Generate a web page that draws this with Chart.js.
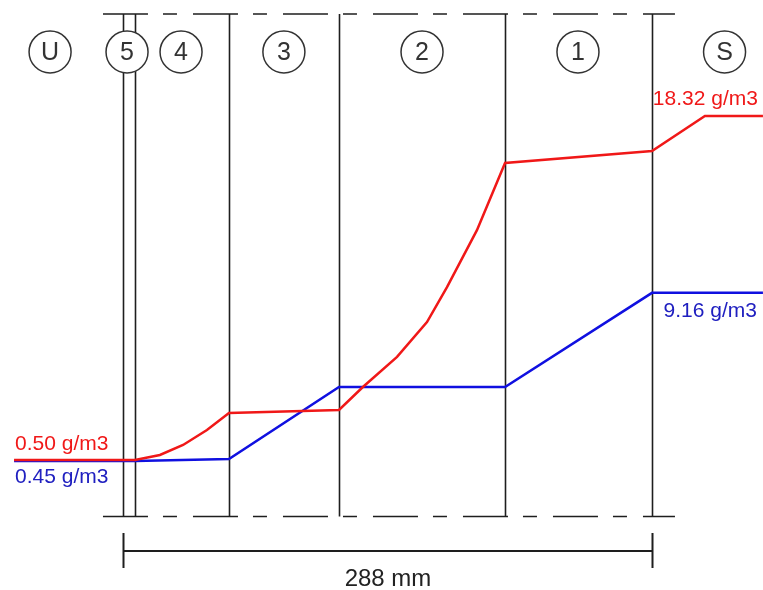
<!DOCTYPE html>
<html>
<head>
<meta charset="utf-8">
<script src="https://cdn.jsdelivr.net/npm/chart.js@4.4.1/dist/chart.umd.min.js"></script>
<style>
  body { margin: 0; background: #fff; }
  #wrap { width: 763px; height: 590px; position: relative; }
</style>
</head>
<body>
<div id="wrap"><canvas id="chart"></canvas></div>
<script>
// positions along the sample in mm, concentrations in g/m3
const boundaries = [0, 6.5, 57.7, 117.6, 208, 288];
const layerNames = ['U', '5', '4', '3', '2', '1', 'S'];
const layerCenters = [-39.7, 2.2, 31.6, 87.6, 162.8, 247.7, 327.5];

const redX = [-59.3, 6.5, 20.1, 32.7, 45.7, 57.7, 117.6, 130.6, 149.2, 165.5, 176.4, 192.7, 208, 288, 316.8, 348.4];
const redY = [0.50, 0.50, 0.76, 1.28, 2.05, 2.93, 3.09, 4.28, 5.84, 7.65, 9.46, 12.41, 15.89, 16.51, 18.32, 18.32];
const blueX = [-59.3, 6.5, 57.7, 117.6, 208, 288, 348.4];
const blueY = [0.45, 0.45, 0.55, 4.28, 4.28, 9.16, 9.16];

const redLabels = ['0.50 g/m3', '18.32 g/m3'];
const blueLabels = ['0.45 g/m3', '9.16 g/m3'];
const totalLabel = '288 mm';

const RED = '#f01818';
const BLUE = '#1010e0';
const INK = '#1e1e1e';

const toPoints = (xs, ys) => xs.map((x, i) => ({ x: x, y: ys[i] }));

// draws the layer frame, circled labels, value labels and dimension line
const layout = {
  id: 'layout',
  beforeDatasetsDraw(chart) {
    const ctx = chart.ctx;
    const xs = chart.scales.x, ys = chart.scales.y;
    const top = ys.getPixelForValue(23.61), bottom = ys.getPixelForValue(-2.43);
    const left = xs.getPixelForValue(-10.9), right = xs.getPixelForValue(300.5);
    ctx.save();
    ctx.strokeStyle = INK;
    ctx.lineWidth = 1.6;
    // dashed top and bottom edges
    ctx.setLineDash([45, 15, 14, 16]);
    [top, bottom].forEach(y => {
      ctx.beginPath();
      ctx.moveTo(left, y);
      ctx.lineTo(right, y);
      ctx.stroke();
    });
    ctx.setLineDash([]);
    boundaries.forEach(b => {
      const x = Math.round(xs.getPixelForValue(b)) + 0.5;
      ctx.beginPath();
      ctx.moveTo(x, top);
      ctx.lineTo(x, bottom);
      ctx.stroke();
    });
    // circled layer names
    const cy = ys.getPixelForValue(21.64);
    ctx.font = '25px "Liberation Sans", Arial, sans-serif';
    ctx.textAlign = 'center';
    ctx.textBaseline = 'middle';
    layerNames.forEach((n, i) => {
      const cx = xs.getPixelForValue(layerCenters[i]);
      ctx.beginPath();
      ctx.fillStyle = '#fff';
      ctx.arc(cx, cy, 21, 0, Math.PI * 2);
      ctx.fill();
      ctx.strokeStyle = '#333';
      ctx.lineWidth = 1.5;
      ctx.stroke();
      ctx.fillStyle = '#333';
      ctx.fillText(n, cx, cy + 1);
    });
    // dimension line
    const x0 = Math.round(xs.getPixelForValue(boundaries[0])) + 0.5;
    const x1 = Math.round(xs.getPixelForValue(boundaries[boundaries.length - 1])) + 0.5;
    const dy = ys.getPixelForValue(-4.21);
    ctx.strokeStyle = INK;
    ctx.lineWidth = 2;
    ctx.beginPath();
    ctx.moveTo(x0, dy); ctx.lineTo(x1, dy);
    ctx.moveTo(x0, dy - 18); ctx.lineTo(x0, dy + 17);
    ctx.moveTo(x1, dy - 18); ctx.lineTo(x1, dy + 17);
    ctx.stroke();
    ctx.fillStyle = '#222';
    ctx.font = '24px "Liberation Sans", Arial, sans-serif';
    ctx.textBaseline = 'alphabetic';
    ctx.fillText(totalLabel, (x0 + x1) / 2, dy + 35);
    ctx.restore();
  },
  afterDatasetsDraw(chart) {
    const ctx = chart.ctx;
    const xs = chart.scales.x, ys = chart.scales.y;
    ctx.save();
    ctx.font = '21px "Liberation Sans", Arial, sans-serif';
    ctx.textBaseline = 'alphabetic';
    const px = (x, y) => [xs.getPixelForValue(x), ys.getPixelForValue(y)];
    let [ax, ay] = px(redX[0], redY[0]);
    ctx.textAlign = 'left';
    ctx.fillStyle = RED;
    ctx.fillText(redLabels[0], ax + 1, ay - 10);
    [ax, ay] = px(blueX[0], blueY[0]);
    ctx.fillStyle = '#2020c0';
    ctx.fillText(blueLabels[0], ax + 1, ay + 22);
    ctx.textAlign = 'right';
    [ax, ay] = px(redX[redX.length - 1], redY[redY.length - 1]);
    ctx.fillStyle = RED;
    ctx.fillText(redLabels[1], ax - 5, ay - 11);
    [ax, ay] = px(blueX[blueX.length - 1], blueY[blueY.length - 1]);
    ctx.fillStyle = '#2020c0';
    ctx.fillText(blueLabels[1], ax - 6, ay + 24);
    ctx.restore();
  }
};

new Chart(document.getElementById('chart'), {
  type: 'line',
  data: {
    datasets: [
      {
        data: toPoints(blueX, blueY),
        borderColor: BLUE,
        borderWidth: 2.5,
        pointRadius: 0,
        tension: 0,
        order: 2
      },
      {
        data: toPoints(redX, redY),
        borderColor: RED,
        borderWidth: 2.5,
        pointRadius: 0,
        tension: 0,
        order: 1
      }
    ]
  },
  options: {
    responsive: true,
    maintainAspectRatio: false,
    animation: false,
    layout: { padding: 0 },
    plugins: { legend: { display: false }, tooltip: { enabled: false } },
    scales: {
      x: { type: 'linear', min: -66.96, max: 348.43, display: false },
      y: { type: 'linear', min: -6.236, max: 24.334, display: false }
    }
  },
  plugins: [layout]
});
</script>
</body>
</html>
